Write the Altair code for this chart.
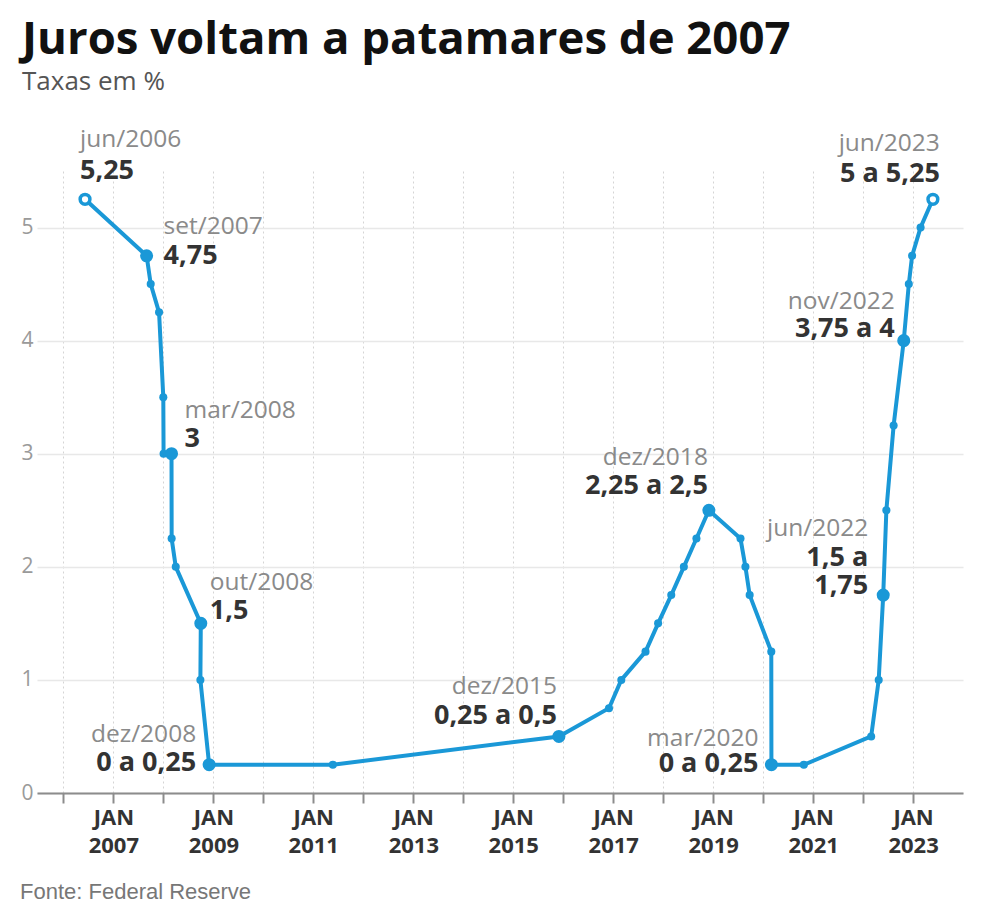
import altair as alt
import pandas as pd

# ---------------- data ----------------
dates = [
    "2006-06-08", "2007-09-01", "2007-10-01", "2007-12-01", "2008-01-01",
    "2008-01-03", "2008-03-01", "2008-03-02", "2008-04-01", "2008-10-01",
    "2008-09-28", "2008-12-01", "2011-05-24", "2015-12-01", "2016-12-01",
    "2017-03-01", "2017-08-25", "2017-11-25", "2018-03-01", "2018-06-01",
    "2018-09-01", "2018-12-01", "2019-07-20", "2019-08-25", "2019-09-25",
    "2020-03-01", "2020-03-02", "2020-10-25", "2022-03-01", "2022-04-25",
    "2022-05-28", "2022-06-20", "2022-08-12", "2022-10-25", "2022-12-01",
    "2022-12-25", "2023-02-25", "2023-05-26",
]
rates = [
    5.25, 4.75, 4.5, 4.25, 3.5,
    3.0, 3.0, 2.25, 2.0, 1.5,
    1.0, 0.25, 0.25, 0.5, 0.75,
    1.0, 1.25, 1.5, 1.75, 2.0,
    2.25, 2.5, 2.25, 2.0, 1.75,
    1.25, 0.25, 0.25, 0.5, 1.0,
    1.75, 2.5, 3.25, 4.0, 4.5,
    4.75, 5.0, 5.25,
]
kinds = [
    "open", "big", "small", "small", "small",
    "small", "big", "small", "small", "big",
    "small", "big", "small", "big", "small",
    "small", "small", "small", "small", "small",
    "small", "big", "small", "small", "small",
    "small", "big", "small", "small", "small",
    "big", "small", "small", "big", "small",
    "small", "small", "open",
]

ann_dates = ["2006-06-08", "2007-09-01", "2008-03-01", "2008-10-01", "2008-12-01",
             "2015-12-01", "2018-12-01", "2020-03-02", "2022-05-28", "2022-10-25",
             "2023-05-26"]
ann_rates = [5.25, 4.75, 3.0, 1.5, 0.25, 0.5, 2.5, 0.25, 1.75, 4.0, 5.25]
ann_periods = ["jun/2006", "set/2007", "mar/2008", "out/2008", "dez/2008",
               "dez/2015", "dez/2018", "mar/2020", "jun/2022", "nov/2022",
               "jun/2023"]
ann_values = ["5,25", "4,75", "3", "1,5", "0 a 0,25",
              "0,25 a 0,5", "2,25 a 2,5", "0 a 0,25", "1,5 a\n1,75", "3,75 a 4",
              "5 a 5,25"]

year_ticks = list(range(2006, 2024))
y_ticks = [0, 1, 2, 3, 4, 5]

TITLE = "Juros voltam a patamares de 2007"
SUBTITLE = "Taxas em %"
SOURCE = "Fonte: Federal Reserve"

# ---------------- styles ----------------
BLUE = "#1a98d7"
FONT = "Open Sans"

# (align, dx, dy of period label, dy of value label)
ann_style = [
    ("left", -5, -59, -28),
    ("left", 17, -29, 0),
    ("left", 13, -43, -15),
    ("left", 9, -40, -12),
    ("right", -13, -30, -2),
    ("right", -2, -49, -20),
    ("right", -1, -52, -24),
    ("right", -13, -26, -1),
    ("right", -15, -66, -37),
    ("right", -9, -39, -12),
    ("right", 7, -55, -25),
]

df = pd.DataFrame({"date": dates, "rate": rates, "kind": kinds,
                   "order": list(range(len(dates)))})
ann_df = pd.DataFrame({"date": ann_dates, "rate": ann_rates, "period": ann_periods,
                       "value": ann_values, "idx": list(range(len(ann_dates)))})

x_scale = alt.Scale(
    type="utc",
    domain=[alt.DateTime(year=2005, month=6, date=22, utc=True),
            alt.DateTime(year=2024, month=1, date=1, utc=True)],
)
y_scale = alt.Scale(domain=[0, 5.5], nice=False, zero=True)

x_axis = alt.Axis(
    values=[alt.DateTime(year=y, month=1, date=1, utc=True) for y in year_ticks],
    format="%Y",
    labelExpr="utcyear(datum.value) % 2 == 1 ? ['JAN', datum.label] : ''",
    title=None,
    grid=True, gridDash=[2, 3], gridColor="#d4d4d4", gridWidth=1,
    domainColor="#8c8c8c", domainWidth=2,
    tickColor="#8c8c8c", tickSize=10, tickWidth=2,
    labelFont=FONT, labelFontWeight="bold", labelFontSize=22, labelColor="#333333",
    labelLineHeight=28, labelPadding=4, labelOverlap=False, labelFlush=False,
    labelBound=False,
)
y_axis = alt.Axis(
    values=y_ticks, format="d", title=None, domain=False, ticks=False,
    grid=True, gridColor="#e8e8e8", gridWidth=1.5,
    labelFont=FONT, labelFontSize=21, labelColor="#9a9a9a", labelPadding=4,
)

X = alt.X("date:T", scale=x_scale, axis=x_axis)
Y = alt.Y("rate:Q", scale=y_scale, axis=y_axis)

line = alt.Chart(df).mark_line(color=BLUE, strokeWidth=4).encode(
    x=X, y=Y, order="order:Q")

small = alt.Chart(df).transform_filter(alt.datum.kind == "small").mark_circle(
    color=BLUE, size=65, opacity=1).encode(x=X, y=Y)
big = alt.Chart(df).transform_filter(alt.datum.kind == "big").mark_circle(
    color=BLUE, size=170, opacity=1).encode(x=X, y=Y)
opn = alt.Chart(df).transform_filter(alt.datum.kind == "open").mark_circle(
    fill="white", stroke=BLUE, strokeWidth=3.5, size=95, opacity=1).encode(x=X, y=Y)

layers = [line, small, big, opn]

for i, (align, dx, dy1, dy2) in enumerate(ann_style):
    base = alt.Chart(ann_df).transform_filter(alt.datum.idx == i)
    layers.append(base.mark_text(
        align=align, baseline="middle", dx=dx, dy=dy1, font=FONT, fontSize=24.5,
        color="#8a8a8a").encode(x=X, y=Y, text="period:N"))
    layers.append(base.mark_text(
        align=align, baseline="middle", dx=dx, dy=dy2, font=FONT, fontSize=27,
        fontWeight="bold", color="#333333", lineBreak="\n", lineHeight=28
    ).encode(x=X, y=Y, text="value:N"))

source = alt.Chart(pd.DataFrame({"t": [SOURCE]})).mark_text(
    align="left", baseline="middle", font="Liberation Sans", fontSize=22,
    color="#777777").encode(x=alt.value(-17), y=alt.value(721), text="t:N")
layers.append(source)

chart = alt.layer(*layers).properties(
    width=926,
    height=622,
    autosize=alt.AutoSizeParams(type="none"),
    padding={"left": 29, "top": 163, "right": 10, "bottom": 116},
    title=alt.TitleParams(
        text=TITLE, subtitle=SUBTITLE, anchor="start", frame="group", dx=-15,
        offset=32, font=FONT, fontSize=45.5, fontWeight="bold", color="#111111",
        subtitleFont=FONT, subtitleFontSize=26, subtitleColor="#555555",
        subtitlePadding=6,
    ),
).configure_view(stroke=None)

chart.save("out.html", embed_options={"renderer": "svg", "actions": False})
